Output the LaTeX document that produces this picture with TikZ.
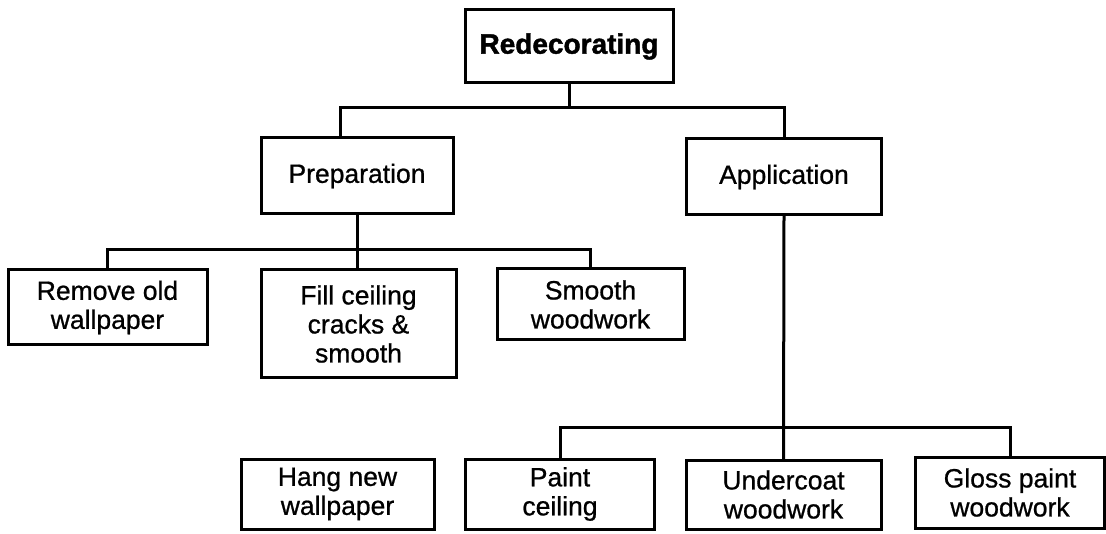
\documentclass[tikz,border=0pt]{standalone}
\usepackage{fontspec}
\setmainfont{Liberation Sans}
\newfontfamily\labelfont[FakeBold=0.8]{Liberation Sans}
\newfontfamily\rootfont[FakeBold=1.5]{Liberation Sans Bold}
\begin{document}
\begin{tikzpicture}[x=1pt,y=1pt,
  box/.style={draw=black, line width=3pt, fill=white, align=center,
    inner sep=0pt, font=\labelfont\fontsize{26.5}{29}\selectfont},
  rootbox/.style={box, font=\rootfont\fontsize{28}{31}\selectfont},
  conn/.style={draw=black, line width=3pt, line cap=rect}]
\useasboundingbox (0,0) rectangle (1106,-534);

% top level
\node[rootbox, minimum width=208, minimum height=73] (red) at (569,-46.5) {Redecorating};

% second level
\node[box, minimum width=192, minimum height=76] (prep) at (357,-176) {Preparation};
\node[box, minimum width=195, minimum height=76] (app) at (784,-177) {Application};

% preparation tasks
\node[box, minimum width=199, minimum height=75] (rem) at (107.5,-307.5) {Remove old\\wallpaper};
\node[box, minimum width=195, minimum height=108] (fill) at (358.5,-324) {Fill ceiling\\cracks \&\\smooth};
\node[box, minimum width=187, minimum height=71] (smooth) at (590.5,-304.5) {Smooth\\woodwork};

% application tasks
\node[box, minimum width=193, minimum height=70] (hang) at (337.5,-494) {Hang new\\wallpaper};
\node[box, minimum width=189, minimum height=70] (paint) at (560,-494) {Paint\\ceiling};
\node[box, minimum width=195, minimum height=69] (under) at (783.5,-494.5) {Undercoat\\woodwork};
\node[box, minimum width=189, minimum height=71] (gloss) at (1010,-492.5) {Gloss paint\\woodwork};

% bus lines
\coordinate (busA) at (0,-108);
\coordinate (busB) at (0,-250);
\coordinate (busC) at (0,-428);

\draw[conn] (red.south) -- (red.south |- busA);
\draw[conn] ([xshift=-17pt]prep.north) |- (app.north |- busA) -- (app.north);

\draw[conn] (prep.south) -- (prep.south |- fill.north);
\draw[conn] (rem.north) |- (smooth.north |- busB) -- (smooth.north);

\draw[conn] (app.south) -- (under.north);
\draw[conn] (paint.north) |- (gloss.north |- busC) -- (gloss.north);
\end{tikzpicture}
\end{document}
